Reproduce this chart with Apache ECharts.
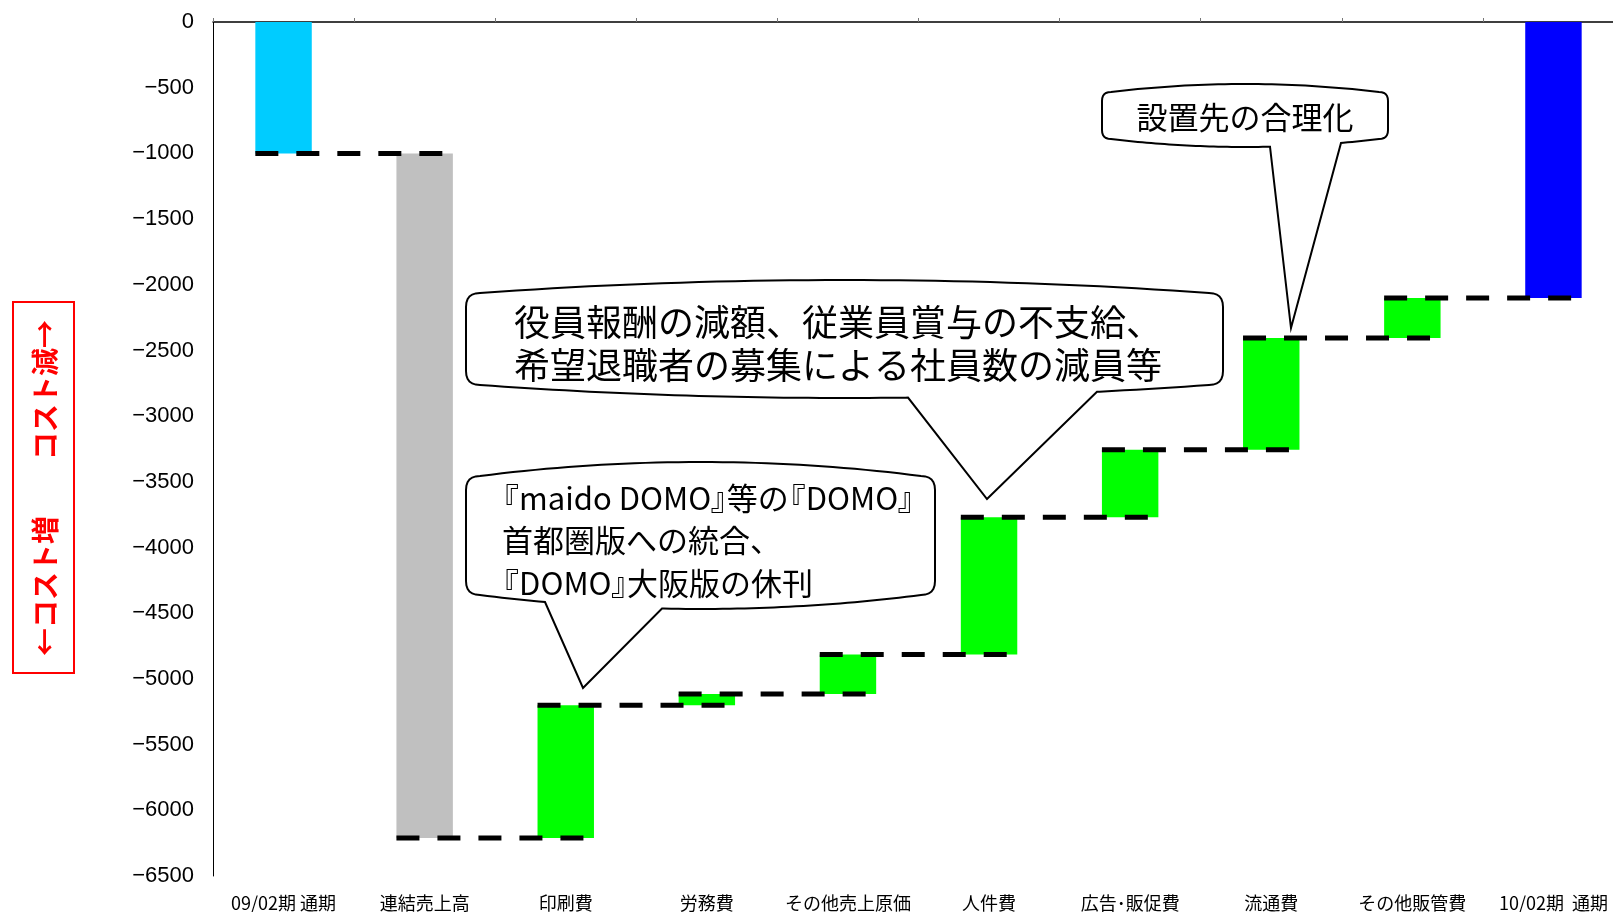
<!DOCTYPE html>
<html>
<head>
<meta charset="utf-8">
<script src="https://cdn.jsdelivr.net/npm/echarts@6/dist/echarts.min.js"></script>
<style>
html,body{margin:0;padding:0;background:#fff;overflow:hidden;}
#c{width:1630px;height:912px;}
</style>
</head>
<body>
<div id="c"></div>
<script>
// ---- data ----
const categories = ['09/02期 通期', '連結売上高', '印刷費', '労務費', 'その他売上原価', '人件費', '広告･販促費', '流通費', 'その他販管費', '10/02期  通期'];
const startTotal = -1000;      // 09/02期 通期
const changes = [-5210, 1010, 85, 300, 1045, 515, 850, 305]; // 連結売上高 … その他販管費
const endTotal = -2100;        // 10/02期 通期
const yTicks = { min: -6500, max: 0, interval: 500 };
const axisTitle = '←コスト増　　コスト減→';
const notes = {
  n1: ['設置先の合理化'],
  n2: ['役員報酬の減額、従業員賞与の不支給、', '希望退職者の募集による社員数の減員等'],
  n3: ['『maido DOMO』等の『DOMO』', '首都圏版への統合、', '『DOMO』大阪版の休刊']
};

// ---- derived waterfall ----
const barColors = ['#00CCFF', '#C0C0C0', '#00FF00', '#00FF00', '#00FF00', '#00FF00', '#00FF00', '#00FF00', '#00FF00', '#0000FF'];
const baseData = [], valData = [], levels = [];
baseData.push(0); valData.push(startTotal);
let level = startTotal; levels.push(level);
changes.forEach(d => {
  const next = level + d;
  const top = Math.max(level, next), bot = Math.min(level, next);
  baseData.push(top); valData.push(bot - top);
  level = next; levels.push(level);
});
baseData.push(0); valData.push(endTotal);
const connectors = levels.map((lv, i) => [i, lv]);

const chart = echarts.init(document.getElementById('c'), null, { renderer: 'canvas' });

function quadPts(p0, c, p2, n) {
  const pts = [];
  for (let k = 1; k <= n; k++) {
    const t = k / n;
    pts.push([(1 - t) * (1 - t) * p0[0] + 2 * t * (1 - t) * c[0] + t * t * p2[0],
              (1 - t) * (1 - t) * p0[1] + 2 * t * (1 - t) * c[1] + t * t * p2[1]]);
  }
  return pts;
}
function bubble(o) {
  const { x0, x1, yTop, yBot, b, r, tl, tr, tip } = o;
  const xc = (x0 + x1) / 2;
  let pts = [[x0, yTop + b + r]];
  pts = pts.concat(quadPts([x0, yTop + b + r], [x0, yTop + b], [x0 + r, yTop + b], 6));
  pts = pts.concat(quadPts([x0 + r, yTop + b], [xc, yTop - b], [x1 - r, yTop + b], 40));
  pts = pts.concat(quadPts([x1 - r, yTop + b], [x1, yTop + b], [x1, yTop + b + r], 6));
  pts.push([x1, yBot - b - r]);
  pts = pts.concat(quadPts([x1, yBot - b - r], [x1, yBot - b], [x1 - r, yBot - b], 6));
  const Ax = x1 - r, Bx = x0 + r;
  const yAt = x => { const t = (Ax - x) / (Ax - Bx); return yBot - b + 4 * b * t * (1 - t); };
  const n = 60; let done = false;
  for (let k = 1; k <= n; k++) {
    const t = k / n; const x = Ax + (Bx - Ax) * t; const y = yBot - b + 4 * b * t * (1 - t);
    if (x > tr) pts.push([x, y]);
    else if (x < tl) {
      if (!done) { pts.push([tr, yAt(tr)], tip, [tl, yAt(tl)]); done = true; }
      pts.push([x, y]);
    }
  }
  pts = pts.concat(quadPts([x0 + r, yBot - b], [x0, yBot - b], [x0, yBot - b - r], 6));
  return { type: 'polygon', shape: { points: pts }, style: { fill: '#fff', stroke: '#000', lineWidth: 2 }, z: 100 };
}
const FONT = '"Noto Sans CJK JP", sans-serif';
function txt(x, y, s, size, align) {
  return { type: 'text', x: x, y: y, z: 101,
    style: { text: s, fill: '#000', font: size + 'px ' + FONT, textAlign: align || 'left', textVerticalAlign: 'middle' } };
}
const mctx = document.createElement('canvas').getContext('2d');
function tightLine(x, y, s, size) {
  mctx.font = size + 'px ' + FONT;
  const els = [];
  let buf = '', cx = x;
  const flush = () => { if (buf) { els.push(txt(cx, y, buf, size)); cx += mctx.measureText(buf).width; buf = ''; } };
  for (const ch of s) {
    if (ch === '『') { flush(); els.push(txt(cx - 0.45 * size, y, ch, size)); cx += 0.55 * size; }
    else if (ch === '』') { flush(); els.push(txt(cx - 0.02 * size, y, ch, size)); cx += 0.5 * size; }
    else buf += ch;
  }
  flush();
  return els;
}

const graphics = [
  { type: 'rect', shape: { x: 13, y: 302, width: 61, height: 371 }, style: { fill: '#fff', stroke: '#FF0000', lineWidth: 2 }, z: 50 },
  { type: 'text', x: 45, y: 488, rotation: Math.PI / 2, z: 51,
    style: { text: axisTitle, fill: '#FF0000', font: 'bold 28px ' + FONT, textAlign: 'center', textVerticalAlign: 'middle' } },
  bubble({ x0: 1102, x1: 1388, yTop: 84, yBot: 147, b: 8, r: 9, tl: 1270, tr: 1341, tip: [1291, 328] }),
  txt(1245, 117, notes.n1[0], 31, 'center'),
  bubble({ x0: 466, x1: 1223, yTop: 280, yBot: 398, b: 13, r: 14, tl: 908, tr: 1097, tip: [987, 499] }),
  txt(514, 322, notes.n2[0], 36),
  txt(514, 365, notes.n2[1], 36),
  bubble({ x0: 466, x1: 935, yTop: 462, yBot: 609, b: 14, r: 14, tl: 545, tr: 662, tip: [583, 688] })
].concat(
  tightLine(502, 498, notes.n3[0], 31),
  tightLine(502, 540, notes.n3[1], 31),
  tightLine(502, 583, notes.n3[2], 31)
);

const option = {
  animation: false,
  backgroundColor: '#fff',
  grid: { left: 213, top: 22, width: 1411, height: 855, containLabel: false },
  xAxis: [
    { type: 'category', data: categories, position: 'top',
      axisLine: { show: true, lineStyle: { color: '#000', width: 1.5 } },
      axisTick: { show: true, length: 4, inside: false, lineStyle: { color: '#777' } },
      axisLabel: { show: false }, splitLine: { show: false } },
    { type: 'category', data: categories, position: 'bottom',
      axisLine: { show: false }, axisTick: { show: false },
      axisLabel: { show: true, interval: 0, margin: 18, color: '#000', fontSize: 18, fontFamily: FONT } }
  ],
  yAxis: {
    type: 'value', min: yTicks.min, max: yTicks.max, interval: yTicks.interval,
    axisLine: { show: true, lineStyle: { color: '#000', width: 1 } },
    axisTick: { show: false }, splitLine: { show: false },
    axisLabel: { margin: 19, color: '#000', fontSize: 22, fontFamily: '"Liberation Sans", sans-serif',
      formatter: v => String(v).replace('-', '−') }
  },
  series: [
    { type: 'bar', stack: 'w', data: baseData, barWidth: '40%', itemStyle: { color: 'transparent' }, silent: true },
    { type: 'bar', stack: 'w', data: valData.map((v, i) => ({ value: v, itemStyle: { color: barColors[i] } })), barWidth: '40%' },
    { type: 'custom', data: connectors, encode: { x: 0, y: 1 }, z: 10,
      renderItem: (params, api) => {
        const i = api.value(0), lv = api.value(1);
        const p0 = api.coord([i, lv]), p1 = api.coord([i + 1, lv]);
        const bw = api.size([1, 0])[0] * 0.4;
        return { type: 'line', shape: { x1: p0[0] - bw / 2, y1: p0[1], x2: p1[0] + bw / 2, y2: p1[1] },
          style: { stroke: '#000', lineWidth: 5, lineDash: [23, 18] } };
      } }
  ],
  graphic: graphics
};
chart.setOption(option);
</script>
</body>
</html>
